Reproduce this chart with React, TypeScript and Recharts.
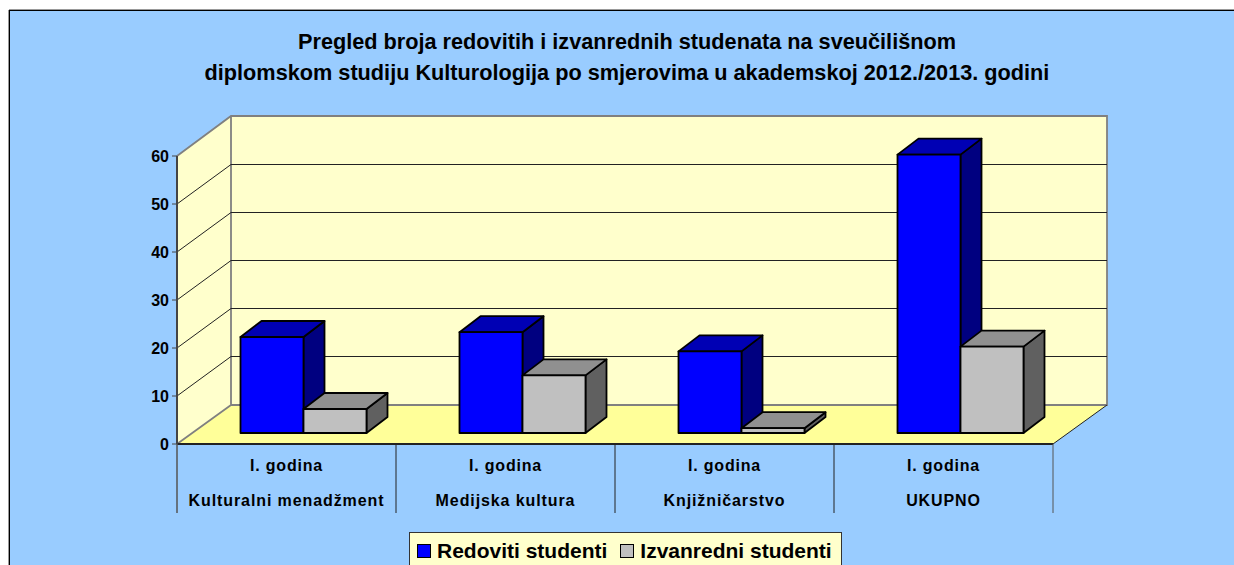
import { Bar, BarChart, CartesianGrid, Legend, ReferenceArea, XAxis, YAxis } from "recharts";

const categories = ["Kulturalni menadžment", "Medijska kultura", "Knjižničarstvo", "UKUPNO"];
const yearLabels = ["I. godina", "I. godina", "I. godina", "I. godina"];
const redoviti = [20, 21, 17, 58];
const izvanredni = [5, 12, 1, 18];
const yTicks = [0, 10, 20, 30, 40, 50, 60];
const titleLines = [
  "Pregled broja redovitih i izvanrednih studenata na sveučilišnom",
  "diplomskom studiju Kulturologija po smjerovima u akademskoj 2012./2013. godini",
];

const data = categories.map((category, i) => ({
  category,
  year: yearLabels[i],
  redoviti: redoviti[i],
  izvanredni: izvanredni[i],
}));

const FONT = '"Liberation Sans", Arial, sans-serif';
const WIDTH = 1234;
const HEIGHT = 565;
const MARGIN = { top: 156, right: 181, bottom: 51, left: 137 };
const PLOT_WIDTH = WIDTH - MARGIN.left - 40 - MARGIN.right;
const BAND = PLOT_WIDTH / categories.length;

// depth of the fake 3d box
const WALL_DX = 54;
const WALL_DY = 39;
const BAR_DX = 21;
const BAR_DY = 16;
const BAR_SHIFT_X = 16.5;
const BAR_SHIFT_Y = 11;

function Walls({ x, y, width, height }: any) {
  const bottom = y + height;
  const right = x + width;
  const backTop = y - WALL_DY - 1;
  const backBottom = bottom - WALL_DY;
  return (
    <g>
      <polygon
        points={`${x},${y} ${x + WALL_DX},${backTop} ${x + WALL_DX},${backBottom} ${x},${bottom}`}
        fill="#FFFFCC"
      />
      <rect x={x + WALL_DX} y={backTop} width={width} height={backBottom - backTop} fill="#FFFFCC" />
      <polygon
        points={`${x},${bottom} ${right},${bottom} ${right + WALL_DX},${backBottom} ${x + WALL_DX},${backBottom}`}
        fill="#FFFF99"
      />
      <path
        d={`M${x},${y} L${x + WALL_DX},${backTop} H${right + WALL_DX} V${backBottom} H${x + WALL_DX} V${backTop} M${x + WALL_DX},${backBottom} L${x},${bottom}`}
        fill="none"
        stroke="#808080"
        strokeWidth={1.8}
      />
      <line x1={right} y1={bottom} x2={right + WALL_DX} y2={backBottom} stroke="#222" strokeWidth={1} />
    </g>
  );
}

function GridLine({ x1, x2, y1, index }: any) {
  if (index === undefined || y1 === undefined) return <g />;
  // top and bottom edges belong to the walls
  if (Math.abs(y1 - MARGIN.top) < 1 || Math.abs(y1 - (HEIGHT - 121)) < 1) return <g />;
  const backY = y1 - WALL_DY - 0.5;
  return (
    <path
      d={`M${x1},${y1} L${x1 + WALL_DX},${backY} H${x2 + WALL_DX}`}
      fill="none"
      stroke="#222"
      strokeWidth={1}
    />
  );
}

function Box3D({ x, y, width, height, fill, topFill, sideFill }: any) {
  const bx = x + BAR_SHIFT_X;
  const by = y - BAR_SHIFT_Y;
  return (
    <g stroke="#000" strokeWidth={1.8} strokeLinejoin="round">
      <polygon
        points={`${bx + width},${by} ${bx + width + BAR_DX},${by - BAR_DY} ${bx + width + BAR_DX},${by + height - BAR_DY} ${bx + width},${by + height}`}
        fill={sideFill}
      />
      <polygon
        points={`${bx},${by} ${bx + BAR_DX},${by - BAR_DY} ${bx + width + BAR_DX},${by - BAR_DY} ${bx + width},${by}`}
        fill={topFill}
      />
      <rect x={bx} y={by} width={width} height={height} fill={fill} />
    </g>
  );
}

function CategoryTick({ x, y, index, payload }: any) {
  const left = x - BAND / 2;
  const right = x + BAND / 2;
  const row = data[index] ?? data.find((d) => d.category === payload.value);
  return (
    <g>
      <line
        x1={left}
        y1={y}
        x2={left}
        y2={y + 69}
        stroke={index === 0 ? "#555" : "#222"}
        strokeWidth={index === 0 ? 1.5 : 1}
      />
      {index === categories.length - 1 && (
        <line x1={right} y1={y} x2={right} y2={y + 69} stroke="#555" strokeWidth={1} />
      )}
      <text x={x} y={y + 27} textAnchor="middle" fontFamily={FONT} fontSize={16} fontWeight={700} letterSpacing={0.8} fill="#000">
        {row.year}
      </text>
      <text x={x} y={y + 62} textAnchor="middle" fontFamily={FONT} fontSize={16} fontWeight={700} letterSpacing={0.9} fill="#000">
        {payload.value}
      </text>
    </g>
  );
}

function LegendBox({ payload }: any) {
  return (
    <div
      style={{
        display: "flex",
        alignItems: "center",
        boxSizing: "border-box",
        height: 40,
        paddingLeft: 7,
        paddingBottom: 2,
        background: "#FFFFCC",
        border: "1px solid #333",
        fontFamily: FONT,
        fontSize: 21,
        fontWeight: 700,
        color: "#000",
        whiteSpace: "nowrap",
      }}
    >
      {(payload ?? []).map((entry: any, i: number) => (
        <span key={entry.value} style={{ display: "inline-flex", alignItems: "center", marginLeft: i ? 13 : 0 }}>
          <span
            style={{
              display: "inline-block",
              width: 12,
              height: 12,
              marginRight: 6,
              background: entry.color,
              border: "1px solid #000",
            }}
          />
          {entry.value}
        </span>
      ))}
    </div>
  );
}

export default function App() {
  return (
    <div style={{ position: "absolute", left: 0, top: 0, width: WIDTH, height: HEIGHT, overflow: "hidden", background: "#fff" }}>
      <div
        style={{
          position: "absolute",
          left: 9,
          top: 10,
          width: 1300,
          height: 600,
          background: "#99CCFF",
          border: "1px solid #000",
          boxShadow: "0 -1px 0 #999, -1px 0 0 #999",
        }}
      />
      <div style={{ position: "absolute", left: 0, top: 0 }}>
        <BarChart
          width={WIDTH}
          height={HEIGHT}
          data={data}
          margin={MARGIN}
          barCategoryGap={47}
          barGap={0}
          style={{ fontFamily: FONT }}
        >
          <ReferenceArea {...({ zIndex: -200 } as any)} y1={0} y2={60} shape={(props: any) => <Walls {...props} />} />
          <CartesianGrid vertical={false} horizontal={(props: any) => <GridLine {...props} />} />
          <XAxis
            dataKey="category"
            interval={0}
            height={70}
            tickSize={0}
            tickMargin={0}
            tickLine={false}
            axisLine={{ stroke: "#222", strokeWidth: 2 }}
            tick={(props: any) => <CategoryTick {...props} />}
          />
          <YAxis
            width={40}
            domain={[0, 60]}
            ticks={yTicks}
            tickSize={5}
            tickMargin={3}
            interval={0}
            axisLine={{ stroke: "#444", strokeWidth: 2 }}
            tickLine={{ stroke: "#444", strokeWidth: 1 }}
            tick={{ fontSize: 16, fontWeight: 700, fill: "#000", fontFamily: FONT }}
          />
          <Legend
            verticalAlign="middle"
            align="center"
            itemSorter={null as any}
            wrapperStyle={{ left: 409, top: 532, width: 433 }}
            content={(props: any) => <LegendBox payload={props.payload} />}
          />
          <Bar
            dataKey="redoviti"
            name="Redoviti studenti"
            fill="#0000FF"
            isAnimationActive={false}
            shape={(props: any) => <Box3D {...props} topFill="#0000B4" sideFill="#000080" />}
          />
          <Bar
            dataKey="izvanredni"
            name="Izvanredni studenti"
            fill="#C0C0C0"
            isAnimationActive={false}
            shape={(props: any) => <Box3D {...props} topFill="#909090" sideFill="#606060" />}
          />
          {titleLines.map((line, i) => (
            <text
              key={line}
              x={627}
              y={49 + i * 31}
              textAnchor="middle"
              fontFamily={FONT}
              fontSize={21.7}
              fontWeight={700}
              fill="#000"
            >
              {line}
            </text>
          ))}
        </BarChart>
      </div>
    </div>
  );
}
